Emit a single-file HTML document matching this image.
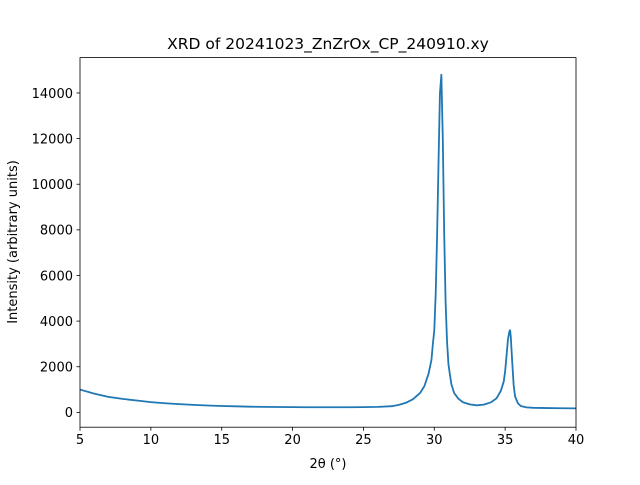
<!DOCTYPE html>
<html><head><meta charset="utf-8"><style>
body{margin:0;background:#fff}
svg text{font-family:"DejaVu Sans","Liberation Sans",sans-serif;fill:#000}
</style></head><body>
<svg id="chart" width="640" height="480" viewBox="0 0 640 480" xmlns="http://www.w3.org/2000/svg">
<rect width="640" height="480" fill="#fff"/>
<text x="328" y="49" font-size="15.5" text-anchor="middle">XRD of 20241023_ZnZrOx_CP_240910.xy</text>
<g id="xticks"></g>
<g id="yticks"></g>
<path id="series" fill="none" stroke="#1f77b4" stroke-width="1.8" stroke-linejoin="round"/>
<rect x="80" y="57.6" width="496" height="369.6" fill="none" stroke="#000" stroke-width="0.8"/>
<text x="328" y="468" font-size="13" text-anchor="middle">2θ (°)</text>
<text transform="translate(17,242) rotate(-90)" font-size="13" text-anchor="middle">Intensity (arbitrary units)</text>
</svg>
<script>
const twoTheta=[5,6,7,8,9,10,11,12,13,14,15,16,17,18,19,20,21,22,23,24,25,26,27,27.5,28,28.5,29,29.3,29.6,29.8,29.9,30.0,30.1,30.2,30.3,30.4,30.5,30.6,30.7,30.8,30.9,31.0,31.2,31.4,31.7,32,32.5,33,33.5,34,34.4,34.7,34.9,35.0,35.1,35.2,35.3,35.35,35.4,35.5,35.6,35.7,35.9,36.1,36.5,37,38,39,40];
const intensity=[1000,820,680,590,520,450,400,360,330,300,280,265,250,240,235,230,225,225,225,225,230,240,270,330,420,580,850,1150,1700,2300,3000,3600,5200,7800,11000,14000,14800,12000,7800,4800,3100,2100,1250,850,600,450,350,310,340,440,620,950,1350,1800,2500,3200,3550,3600,3300,2200,1200,700,400,280,220,200,190,180,175];
const xTicks=[5,10,15,20,25,30,35,40];
const yTicks=[0,2000,4000,6000,8000,10000,12000,14000];
const X0=80,X1=576,Y0=427.2,Y1=57.6,xmin=5,xmax=40,ymin=-650,ymax=15550;
const sx=v=>X0+(v-xmin)/(xmax-xmin)*(X1-X0);
const sy=v=>Y0-(v-ymin)/(ymax-ymin)*(Y0-Y1);
const NS="http://www.w3.org/2000/svg";
let d="";
twoTheta.forEach((x,i)=>{d+=(i?"L":"M")+sx(x).toFixed(2)+","+sy(intensity[i]).toFixed(2);});
document.getElementById("series").setAttribute("d",d);
const gx=document.getElementById("xticks");
xTicks.forEach(t=>{
 const l=document.createElementNS(NS,"line");
 
 
 l.setAttribute("x1",sx(t));l.setAttribute("x2",sx(t));l.setAttribute("y1",Y0);l.setAttribute("y2",Y0+3.5);l.setAttribute("stroke","#000");l.setAttribute("stroke-width","0.8");gx.appendChild(l);
 const s=document.createElementNS(NS,"text");
 
 
 s.setAttribute("x",sx(t));s.setAttribute("y",Y0+17);s.setAttribute("font-size","13");s.setAttribute("text-anchor","middle");s.textContent=t;gx.appendChild(s);
});
const gy=document.getElementById("yticks");
yTicks.forEach(t=>{
 const l=document.createElementNS(NS,"line");
 
 
 l.setAttribute("x1",X0-3.5);l.setAttribute("x2",X0);l.setAttribute("y1",sy(t));l.setAttribute("y2",sy(t));l.setAttribute("stroke","#000");l.setAttribute("stroke-width","0.8");gy.appendChild(l);
 const s=document.createElementNS(NS,"text");
 
 
 s.setAttribute("x",X0-7);s.setAttribute("y",sy(t)+4.8);s.setAttribute("font-size","13");s.setAttribute("text-anchor","end");s.textContent=t;gy.appendChild(s);
});
</script>
</body></html>
